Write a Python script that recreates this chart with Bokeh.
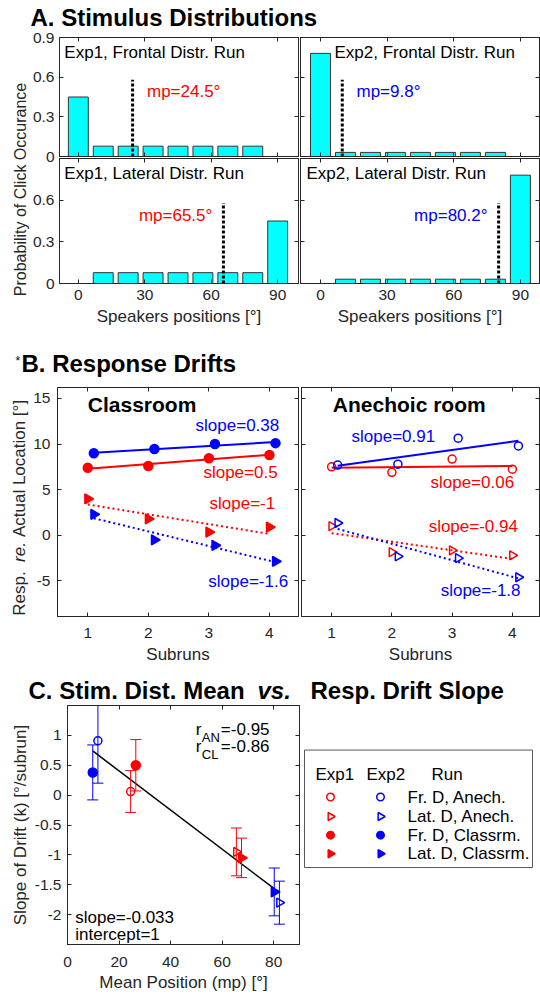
import numpy as np
from bokeh.plotting import figure
from bokeh.models import Range1d, FixedTicker, LinearAxis, CustomLabelingPolicy
from bokeh.layouts import column, row
from bokeh.embed import file_html
from bokeh.resources import INLINE
from bokeh.core.properties import value

FONT = "Liberation Sans"
RED = "#ff0000"
BLUE = "#0000ff"
CYAN = "#00ffff"
AX = "#262626"

# ---------------- Panel A data ----------------
speakers = [0, 11.25, 22.5, 33.75, 45, 56.25, 67.5, 78.75, 90]
p_exp1_frontal = [0.45, 0.078, 0.078, 0.078, 0.078, 0.078, 0.078, 0.078, 0.0]
p_exp2_frontal = [0.78, 0.031, 0.031, 0.031, 0.031, 0.031, 0.031, 0.031, 0.0]
p_exp1_lateral = [0.0, 0.078, 0.078, 0.078, 0.078, 0.078, 0.078, 0.078, 0.45]
p_exp2_lateral = [0.0, 0.031, 0.031, 0.031, 0.031, 0.031, 0.031, 0.031, 0.78]
mp_exp1_frontal = 24.5
mp_exp2_frontal = 9.8
mp_exp1_lateral = 65.5
mp_exp2_lateral = 80.2
a_names = ["Exp1, Frontal Distr. Run", "Exp2, Frontal Distr. Run",
           "Exp1, Lateral Distr. Run", "Exp2, Lateral Distr. Run"]
a_xticks = [0, 30, 60, 90]
a_xtick_labels = ["0", "30", "60", "90"]
a_yticks = [0, 0.3, 0.6, 0.9]
a_ytick_labels = ["0", "0.3", "0.6", "0.9"]

# ---------------- Panel B data ----------------
subruns_exp1 = [1, 2, 3, 4]
subruns_exp2 = [1.1, 2.1, 3.1, 4.1]
cl_exp1_fr = [7.4, 7.6, 8.45, 8.8]
cl_exp2_fr = [9.0, 9.45, 10.0, 10.1]
cl_exp1_lat = [4.0, 1.8, 0.35, 0.9]
cl_exp2_lat = [2.3, -0.5, -1.1, -2.85]
an_exp1_fr = [7.5, 6.9, 8.35, 7.25]
an_exp2_fr = [7.7, 7.8, 10.65, 9.8]
an_exp1_lat = [1.0, -1.85, -1.65, -2.2]
an_exp2_lat = [1.35, -2.3, -2.5, -4.6]
cl_slope_labels = ["slope=0.38", "slope=0.5", "slope=-1", "slope=-1.6"]
an_slope_labels = ["slope=0.91", "slope=0.06", "slope=-0.94", "slope=-1.8"]
b_xticks = [1, 2, 3, 4]
b_xtick_labels = ["1", "2", "3", "4"]
b_yticks = [-5, 0, 5, 10, 15]
b_ytick_labels = ["-5", "0", "5", "10", "15"]
b_ylabel_parts = ["Resp.", "re.", "Actual Location [°]"]

# ---------------- Panel C data ----------------
# order: Exp1 Fr Anech, Exp2 Fr Anech, Exp1 Lat Anech, Exp2 Lat Anech,
#        Exp1 Fr Class, Exp2 Fr Class, Exp1 Lat Class, Exp2 Lat Class
c_mean_pos = [24.5, 11.8, 65.5, 82.2, 26.5, 9.8, 67.5, 80.2]
c_drift_slope = [0.06, 0.91, -0.95, -1.8, 0.5, 0.38, -1.05, -1.62]
c_drift_err = [0.35, 0.71, 0.40, 0.36, 0.43, 0.46, 0.33, 0.40]
c_color = [RED, BLUE, RED, BLUE, RED, BLUE, RED, BLUE]
c_marker = ["circle", "circle", "triangle", "triangle", "circle", "circle", "triangle", "triangle"]
c_filled = [False, False, False, False, True, True, True, True]
c_xticks = [0, 20, 40, 60, 80]
c_xtick_labels = ["0", "20", "40", "60", "80"]
c_yticks = [-2, -1.5, -1, -0.5, 0, 0.5, 1]
c_ytick_labels = ["-2", "-1.5", "-1", "-0.5", "0", "0.5", "1"]
legend_labels = ["Fr. D, Anech.", "Lat. D, Anech.", "Fr. D,  Classrm.", "Lat. D, Classrm."]
legend_markers = ["circle", "triangle", "circle", "triangle"]
legend_filled = [False, False, True, True]

TICK_FS = "15.5px"
LAB_FS = "17px"
ANN_FS = "17px"

HIDE = """
try { for (const i of Array.from(indices)) { indices.unset(i) } } catch (e) {}
return indices
"""


def plot(w, h, xr, yr, bl, br, bt, bb, **kw):
    p = figure(width=w, height=h, x_range=Range1d(*xr), y_range=Range1d(*yr),
               x_axis_type=None, y_axis_type=None, output_backend="svg",
               toolbar_location=None, min_border_left=bl, min_border_right=br,
               min_border_top=bt, min_border_bottom=bb, **kw)
    p.outline_line_color = AX
    p.background_fill_color = "white"
    p.border_fill_color = "white"
    return p


def blank(w, h):
    p = figure(width=w, height=h, x_range=Range1d(0, w), y_range=Range1d(0, h),
               x_axis_type=None, y_axis_type=None, output_backend="svg",
               toolbar_location=None, min_border=0)
    p.outline_line_color = None
    p.background_fill_color = "white"
    p.border_fill_color = "white"
    return p


def axis(p, side, ticks, labels=None, label=None, standoff=5, label_standoff=4,
         label_size=LAB_FS, line=True, label_style="normal"):
    ax = LinearAxis(ticker=FixedTicker(ticks=ticks))
    ax.axis_line_color = AX if line else None
    ax.major_tick_line_color = AX if line else None
    ax.major_tick_in = 4
    ax.major_tick_out = 0
    ax.minor_tick_in = 0
    ax.minor_tick_out = 0
    if labels is None:
        ax.major_label_text_font_size = "0px"
        ax.major_label_standoff = 0
        ax.major_label_policy = CustomLabelingPolicy(code=HIDE)
    else:
        ax.major_label_overrides = {t: l for t, l in zip(ticks, labels)}
        ax.major_label_text_font = FONT
        ax.major_label_text_font_size = TICK_FS
        ax.major_label_text_color = AX
        ax.major_label_standoff = standoff
    if label:
        ax.axis_label = label
        ax.axis_label_text_font = FONT
        ax.axis_label_text_font_size = label_size
        ax.axis_label_text_font_style = label_style
        ax.axis_label_text_color = AX
        ax.axis_label_standoff = label_standoff
    p.add_layout(ax, side)


def label_strip(h, text, bt, bb, size=LAB_FS, style="normal"):
    """Thin figure whose only content is a rotated left-axis label."""
    f = figure(width=29, height=h, x_range=Range1d(0, 1), y_range=Range1d(0, 1),
               x_axis_type=None, y_axis_type=None, output_backend="svg",
               toolbar_location=None, min_border_left=28, min_border_right=0,
               min_border_top=bt, min_border_bottom=bb)
    f.outline_line_color = None
    f.background_fill_color = "white"
    f.border_fill_color = "white"
    axis(f, "left", [], None, label=text, label_standoff=0, label_size=size,
         line=False, label_style=style)
    return f


def txt(p, x, y, s, size=ANN_FS, color="black", align="left", baseline="middle",
        style="normal", x_offset=0, y_offset=0):
    p.text(x=[x], y=[y], text=[s], text_font=value(FONT), text_font_size=value(size),
           text_color=color, text_align=align, text_baseline=baseline,
           text_font_style=style, x_offset=x_offset, y_offset=y_offset)


# ---------------- Panel A ----------------
A_XL = (-8.5, 99.4)
A_XR = (-9.0, 98.6)
MP_LINE_TOP = 0.58


def panel_a(w, h, xr, bl, br, bt, bb, probs, mp, name, name_x, mp_text, mp_color, mp_x,
            mp_align, yt_labels, x_labels, yticks, **kw):
    p = plot(w, h, xr, (0, 0.9), bl, br, bt, bb, **kw)
    p.vbar(x=speakers, top=probs, width=9, fill_color=CYAN, line_color="#333333", line_width=1)
    p.segment(x0=[mp], y0=[0], x1=[mp], y1=[MP_LINE_TOP], line_color="black",
              line_width=3, line_dash="3 2")
    txt(p, name_x, 0.79, name)
    txt(p, mp_x, 0.49, mp_text, color=mp_color, align=mp_align)
    axis(p, "left", yticks, yt_labels, standoff=5)
    axis(p, "right", yticks)
    axis(p, "above", a_xticks)
    if x_labels:
        axis(p, "below", a_xticks, a_xtick_labels, label="Speakers positions [°]",
             standoff=6, label_standoff=4)
    else:
        axis(p, "below", a_xticks)
    return p


# top-left canvas reaches a little lower so that its "0" label is whole; the
# lower panel is pulled up over that strip with a transparent border
tl = panel_a(270, 136, A_XL, 28, 1, 7, 10, p_exp1_frontal, mp_exp1_frontal, a_names[0], -6.3,
             "mp=24.5°", RED, 31.0, "left", a_ytick_labels, False, a_yticks)
tr = panel_a(241, 127, A_XR, 1, 1, 7, 1, p_exp2_frontal, mp_exp2_frontal, a_names[1], 6.3,
             "mp=9.8°", BLUE, 16.2, "left", None, False, a_yticks)
bl = panel_a(270, 175, A_XL, 28, 1, 1, 49, p_exp1_lateral, mp_exp1_lateral, a_names[2], -6.3,
             "mp=65.5°", RED, 60.5, "right", a_ytick_labels[:3], True, a_yticks[:3],
             margin=(-9, 0, 0, 0))
bl.border_fill_color = None
bl.background_fill_color = None
br = panel_a(241, 175, A_XR, 1, 1, 1, 49, p_exp2_lateral, mp_exp2_lateral, a_names[3], -6.3,
             "mp=80.2°", BLUE, 75.2, "right", None, True, a_yticks[:3])

yl_a = label_strip(302, "Probability of Click Occurance", 16, 0, size="16px")

title_a = blank(540, 30)
txt(title_a, 30, 13.5, "A. Stimulus Distributions", size="24px", style="bold")

# ---------------- Panel B ----------------
B_YR = (-8.9, 16.2)


def series(p, x, y, color, marker, filled, dash):
    k, b = np.polyfit(x, y, 1)
    xs = [x[0], x[-1]]
    p.line(xs, [k * xs[0] + b, k * xs[1] + b], line_color=color, line_width=2, line_dash=dash)
    ang = -np.pi / 2 if marker == "triangle" else 0.0
    if marker == "circle":
        size = 9 if filled else 8
    else:
        size = 10 if filled else 9
    p.scatter(x, y, marker=marker, size=size, angle=ang,
              fill_color=color if filled else None, line_color=color, line_width=1.5)


b_l = plot(270, 285, (0.5, 4.48), B_YR, 28, 1, 4, 52)
series(b_l, subruns_exp1, cl_exp1_fr, RED, "circle", True, "solid")
series(b_l, subruns_exp2, cl_exp2_fr, BLUE, "circle", True, "solid")
series(b_l, subruns_exp1, cl_exp1_lat, RED, "triangle", True, "2 3")
series(b_l, subruns_exp2, cl_exp2_lat, BLUE, "triangle", True, "2 3")
txt(b_l, 1.0, 14.3, "Classroom", size="21px", style="bold")
txt(b_l, 2.78, 12.0, cl_slope_labels[0], color=BLUE)
txt(b_l, 2.91, 6.9, cl_slope_labels[1], color=RED)
txt(b_l, 3.01, 3.5, cl_slope_labels[2], color=RED)
txt(b_l, 2.99, -5.1, cl_slope_labels[3], color=BLUE)
axis(b_l, "left", b_yticks, b_ytick_labels, standoff=7)
axis(b_l, "right", b_yticks)
axis(b_l, "above", b_xticks)
axis(b_l, "below", b_xticks, b_xtick_labels, label="Subruns", standoff=11, label_standoff=4)

b_r = plot(241, 285, (0.5, 4.45), B_YR, 2, 1, 4, 52)
series(b_r, subruns_exp1, an_exp1_fr, RED, "circle", False, "solid")
series(b_r, subruns_exp2, an_exp2_fr, BLUE, "circle", False, "solid")
series(b_r, subruns_exp1, an_exp1_lat, RED, "triangle", False, "2 3")
series(b_r, subruns_exp2, an_exp2_lat, BLUE, "triangle", False, "2 3")
txt(b_r, 1.02, 14.3, "Anechoic room", size="21px", style="bold")
txt(b_r, 1.33, 10.8, an_slope_labels[0], color=BLUE)
txt(b_r, 2.64, 5.8, an_slope_labels[1], color=RED)
txt(b_r, 2.61, 1.0, an_slope_labels[2], color=RED)
txt(b_r, 2.81, -6.1, an_slope_labels[3], color=BLUE)
axis(b_r, "left", b_yticks)
axis(b_r, "right", b_yticks)
axis(b_r, "above", b_xticks)
axis(b_r, "below", b_xticks, b_xtick_labels, label="Subruns", standoff=11, label_standoff=4)

# y label of panel B in three stacked strips so that "re." can be italic
yl_b = column(
    label_strip(157, b_ylabel_parts[2], 13, 0),
    label_strip(23, b_ylabel_parts[1], 0, 0, style="italic"),
    label_strip(105, b_ylabel_parts[0], 0, 45),
)

title_b = blank(540, 51)
txt(title_b, 15, 23, "*", size="12px")
txt(title_b, 21, 20.5, "B. Response Drifts", size="24px", style="bold")

# ---------------- Panel C ----------------
c = plot(300, 295, (0, 90), (-2.5, 1.5), 67, 1, 1, 55)
cx = np.array(c_mean_pos)
cy = np.array(c_drift_slope)
ce = np.array(c_drift_err)
k, b0 = np.polyfit(cx, cy, 1)
mp_all = [mp_exp1_frontal, mp_exp2_frontal, mp_exp1_lateral, mp_exp2_lateral]
x_fit = [min(mp_all), max(mp_all)]
c.line(x_fit, [k * x_fit[0] + b0, k * x_fit[1] + b0], line_color="black", line_width=1.5)
for i in range(len(c_mean_pos)):
    col = c_color[i]
    c.segment(x0=[cx[i]], y0=[cy[i] - ce[i]], x1=[cx[i]], y1=[cy[i] + ce[i]],
              line_color=col, line_width=1)
    c.scatter([cx[i], cx[i]], [cy[i] - ce[i], cy[i] + ce[i]], marker="dash", size=11,
              line_color=col, line_width=1)
    mk = c_marker[i]
    ang = -np.pi / 2 if mk == "triangle" else 0.0
    if mk == "circle":
        size = 9 if c_filled[i] else 8
    else:
        size = 10 if c_filled[i] else 9
    c.scatter([cx[i]], [cy[i]], marker=mk, size=size, angle=ang,
              fill_color=col if c_filled[i] else None, line_color=col, line_width=1.5)

txt(c, 49.8, 1.105, "r")
txt(c, 49.8, 1.105, "AN", size="13px", x_offset=6, y_offset=8)
txt(c, 49.8, 1.105, "=-0.95", x_offset=25)
txt(c, 49.8, 0.82, "r")
txt(c, 49.8, 0.82, "CL", size="13px", x_offset=6, y_offset=8)
txt(c, 49.8, 0.82, "=-0.86", x_offset=25)
txt(c, 3.0, -2.04, "slope=-0.033")
txt(c, 3.0, -2.33, "intercept=1")
axis(c, "left", c_yticks, c_ytick_labels, label="Slope of Drift (k) [°/subrun]",
     standoff=6, label_standoff=2)
axis(c, "right", c_yticks)
axis(c, "above", c_xticks)
axis(c, "below", c_xticks, c_xtick_labels, label="Mean Position (mp) [°]",
     standoff=12, label_standoff=3)

leg = blank(240, 295)
leg.quad(left=[4], right=[232], bottom=[95], top=[240], fill_color="white",
         line_color="#5a5a5a", line_width=1)
txt(leg, 15, 210, "Exp1")
txt(leg, 66, 210, "Exp2")
txt(leg, 131, 210, "Run")
row_y = [182, 158, 135, 112]
for j in range(4):
    mk = legend_markers[j]
    ang = -np.pi / 2 if mk == "triangle" else 0.0
    for xx, col in ((30, RED), (80, BLUE)):
        leg.scatter([xx], [row_y[j]], marker=mk, size=8 if mk == "triangle" else 7.5,
                    angle=ang, fill_color=col if legend_filled[j] else None,
                    line_color=col, line_width=1.5)
    txt(leg, 107, row_y[j], legend_labels[j])

title_c = blank(540, 36)
txt(title_c, 28, 14, "C. Stim. Dist. Mean", size="24px", style="bold")
txt(title_c, 257, 14, "vs.", size="24px", style="bold italic")
txt(title_c, 310, 14, "Resp. Drift Slope", size="24px", style="bold")

layout = column(
    title_a,
    row(yl_a, column(tl, bl), column(tr, br)),
    title_b,
    row(yl_b, b_l, b_r),
    title_c,
    row(c, leg),
)

open("out.html", "w").write(file_html(layout, INLINE))
